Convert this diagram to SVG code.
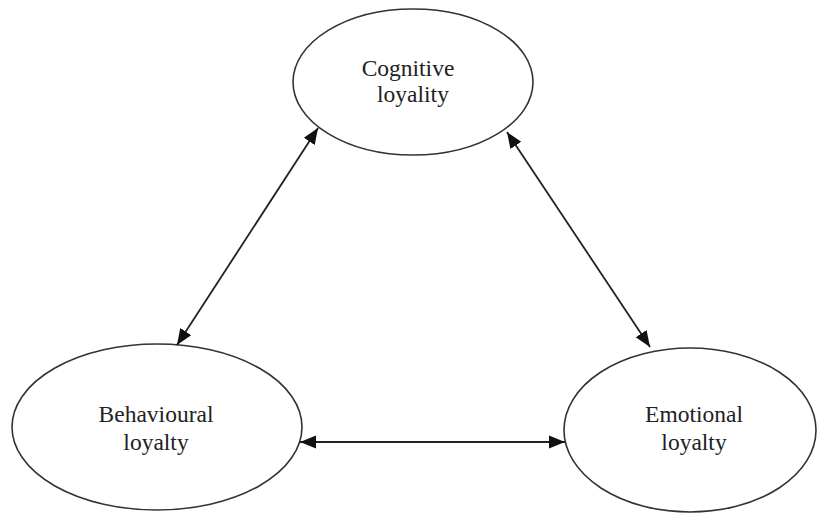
<svg xmlns="http://www.w3.org/2000/svg" width="819" height="513" viewBox="0 0 819 513">
<style>
.node ellipse{fill:#fff;stroke:#333;stroke-width:1.6}
.node text{font-size:23.5px;fill:#222;text-anchor:middle}
.conn line{stroke:#222;stroke-width:1.8;marker-start:url(#ah);marker-end:url(#ah)}
</style>
<defs>
<marker id="ah" markerUnits="userSpaceOnUse" markerWidth="17" markerHeight="14" refX="16" refY="7" orient="auto-start-reverse">
<path d="M0,0.5 L16,7 L0,13.5 Z" fill="#111"/>
</marker>
</defs>
<rect width="819" height="513" fill="#fff"/>
<g id="cognitive" class="node" font-family="'Liberation Serif', 'Times New Roman', 'DejaVu Serif', serif">
<ellipse cx="413" cy="82" rx="120" ry="73"/>
<text x="408" y="76">Cognitive</text>
<text x="413" y="102">loyality</text>
</g>
<g id="behavioural" class="node" font-family="'Liberation Serif', 'Times New Roman', 'DejaVu Serif', serif">
<ellipse cx="157" cy="427" rx="145" ry="83"/>
<text x="156" y="422">Behavioural</text>
<text x="156" y="450">loyalty</text>
</g>
<g id="emotional" class="node" font-family="'Liberation Serif', 'Times New Roman', 'DejaVu Serif', serif">
<ellipse cx="690" cy="430" rx="126" ry="82"/>
<text x="694" y="422">Emotional</text>
<text x="694" y="450">loyalty</text>
</g>
<g id="connectors" class="conn">
<line x1="318" y1="128" x2="177" y2="345"/>
<line x1="507" y1="132" x2="650" y2="347"/>
<line x1="300" y1="442" x2="565" y2="442"/>
</g>
</svg>
